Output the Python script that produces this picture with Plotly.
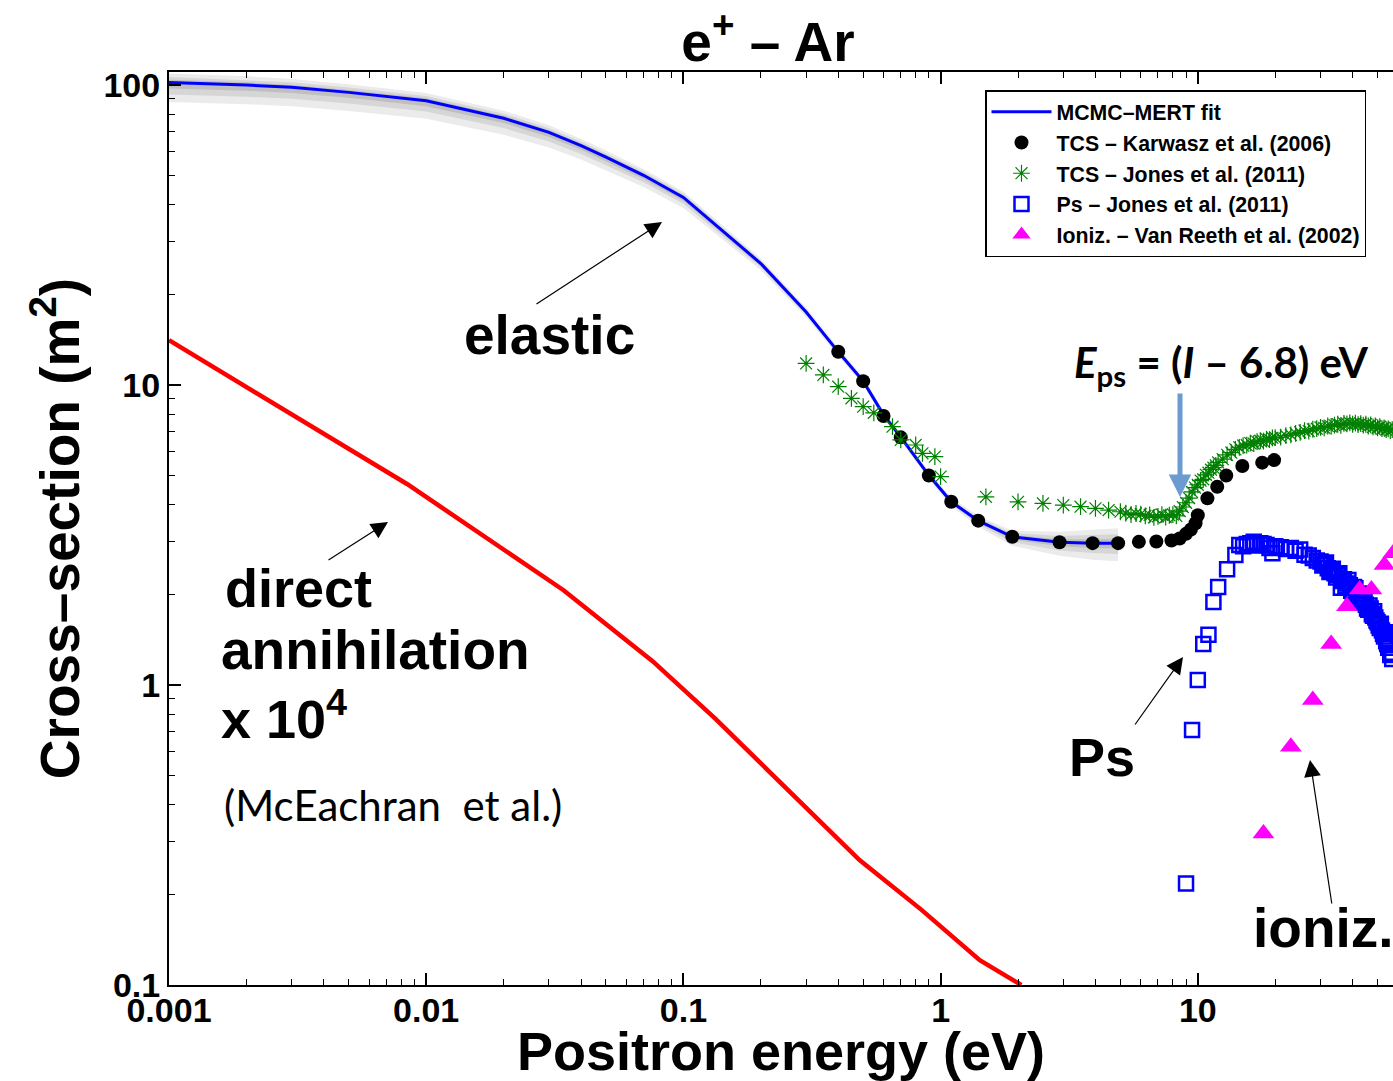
import plotly.graph_objects as go

# ---------------- data ----------------
# MCMC-MERT elastic fit (m^2 scale as labelled), with credible bands (dex offsets)
fit_energy = [0.001, 0.002, 0.003, 0.005, 0.01, 0.02, 0.03, 0.04, 0.05, 0.07, 0.1, 0.2, 0.3,
              0.4, 0.5, 0.6, 0.7, 0.8, 0.9, 1.1, 1.4, 1.9, 2.9, 3.9, 4.9]
fit_cs = [102, 100, 98.2, 94.5, 88.6, 77.5, 69.5, 62.8, 57.5, 50, 42.2, 25.4, 17.5,
          12.9, 10.3, 7.95, 6.7, 5.75, 5.0, 4.08, 3.53, 3.12, 2.99, 2.97, 2.97]
band_outer_up = [0.030, 0.029, 0.028, 0.027, 0.026, 0.025, 0.024, 0.023, 0.022, 0.021, 0.020, 0.017, 0.015,
                 0.014, 0.013, 0.013, 0.013, 0.013, 0.013, 0.014, 0.016, 0.020, 0.035, 0.045, 0.050]
band_outer_dn = [0.065, 0.064, 0.063, 0.062, 0.060, 0.055, 0.050, 0.046, 0.043, 0.039, 0.035, 0.022, 0.017,
                 0.014, 0.013, 0.013, 0.013, 0.013, 0.013, 0.015, 0.020, 0.030, 0.045, 0.055, 0.060]
band_mid_up = [0.018, 0.017, 0.017, 0.016, 0.016, 0.015, 0.014, 0.014, 0.013, 0.013, 0.012, 0.010, 0.009,
               0.008, 0.008, 0.008, 0.008, 0.008, 0.008, 0.008, 0.010, 0.012, 0.021, 0.027, 0.030]
band_mid_dn = [0.040, 0.039, 0.038, 0.037, 0.036, 0.033, 0.030, 0.028, 0.026, 0.023, 0.021, 0.013, 0.010,
               0.008, 0.008, 0.008, 0.008, 0.008, 0.008, 0.009, 0.012, 0.018, 0.027, 0.033, 0.036]
band_inner_up = [0.009, 0.009, 0.008, 0.008, 0.008, 0.008, 0.007, 0.007, 0.007, 0.006, 0.006, 0.005, 0.005,
                 0.004, 0.004, 0.004, 0.004, 0.004, 0.004, 0.004, 0.005, 0.006, 0.010, 0.013, 0.015]
band_inner_dn = [0.020, 0.019, 0.019, 0.018, 0.018, 0.016, 0.015, 0.014, 0.013, 0.012, 0.011, 0.007, 0.005,
                 0.004, 0.004, 0.004, 0.004, 0.004, 0.004, 0.005, 0.006, 0.009, 0.013, 0.016, 0.018]

# Direct annihilation (x 1e4), McEachran et al.
annih_energy = [0.001, 0.00845, 0.0342, 0.0761, 0.133, 0.484, 0.843, 1.42, 2.06]
annih_cs = [14.1, 4.67, 2.07, 1.198, 0.772, 0.261, 0.178, 0.121, 0.1]

# TCS - Karwasz et al. (2006)
karwasz_energy = [0.4, 0.5, 0.6, 0.7, 0.9, 1.1, 1.4, 1.9, 2.9, 3.9, 4.9, 5.9, 6.9, 7.9, 8.5, 9.0,
                  9.4, 9.8, 10.0, 10.9, 11.9, 12.9, 14.9, 17.8, 19.8]
karwasz_cs = [12.9, 10.3, 7.88, 6.69, 4.99, 4.08, 3.53, 3.12, 2.99, 2.97, 2.97, 3.00, 3.01, 3.03, 3.08, 3.19,
              3.30, 3.46, 3.68, 4.19, 4.58, 4.99, 5.37, 5.51, 5.62]

# TCS - Jones et al. (2011)
jones_tcs_energy = [0.30, 0.35, 0.40, 0.45, 0.50, 0.55, 0.65, 0.70, 0.80, 0.85, 0.95, 1.0,
                    1.5, 2.0, 2.5, 3.0, 3.5, 4.0, 4.5, 5.0, 5.25, 5.5, 5.75, 6.0, 6.25, 6.5, 6.75,
                    7.0, 7.25, 7.5, 7.75, 8.0, 8.25, 8.5, 8.75, 9.0, 9.25, 9.5, 9.75, 10.0,
                    10.25, 10.5, 10.75, 11.0, 11.25, 11.5, 11.75, 12.0, 12.5, 13.0, 13.5, 14.0,
                    14.5, 15.0, 15.5, 16.0, 16.5, 17.0, 17.5, 18.0, 18.5, 19.0, 19.5, 20, 21, 22,
                    23, 24, 25, 26, 27, 28, 29, 30, 31, 32, 33, 34, 35, 36, 37, 38, 39, 40, 41,
                    42, 43, 44, 45, 46, 47, 48, 49, 50, 51, 52, 53, 54, 55, 56, 57]
jones_tcs_cs = [11.8, 10.8, 9.87, 9.03, 8.47, 8.08, 7.26, 6.56, 6.31, 5.92, 5.77, 4.95,
                4.24, 4.08, 4.03, 3.98, 3.93, 3.88, 3.83, 3.78, 3.74, 3.70, 3.73, 3.71, 3.66, 3.69, 3.62,
                3.65, 3.70, 3.63, 3.68, 3.70, 3.66, 3.80, 3.92, 4.05, 4.20, 4.40, 4.55, 4.65,
                4.80, 4.85, 5.02, 5.10, 5.22, 5.30, 5.40, 5.52, 5.66, 5.85, 5.95, 6.10,
                6.20, 6.28, 6.30, 6.40, 6.38, 6.48, 6.52, 6.50, 6.60, 6.58, 6.66, 6.68, 6.70, 6.78,
                6.82, 6.90, 6.95, 7.05, 7.02, 7.12, 7.15, 7.22, 7.20, 7.30, 7.28, 7.35, 7.40, 7.33, 7.45,
                7.42, 7.48, 7.40, 7.46, 7.38, 7.44, 7.35, 7.40, 7.30, 7.36, 7.25, 7.30, 7.20, 7.26, 7.15,
                7.20, 7.10, 7.14, 7.05, 7.10]

# Ps formation - Jones et al. (2011)
ps_energy = [9.0, 9.5, 10.0, 10.5, 11.0, 11.5, 12.0, 13.0, 14.0, 14.5, 15.0, 15.5, 16.0, 16.5,
             17.0, 17.5, 18.0, 18.5, 19.0, 19.5, 20.0, 21, 22, 23, 24, 25, 26, 27, 28, 29, 30,
             30.5, 31, 31.5, 32, 32.5, 33, 33.5, 34, 34.5, 35, 35.5, 36, 36.5, 37, 37.5, 38, 38.5,
             39, 39.5, 40, 40.5, 41, 41.5, 42, 42.5, 43, 43.5, 44, 44.5, 45, 45.5, 46, 46.5, 47,
             47.5, 48, 48.5, 49, 49.5, 50, 50.5, 51, 51.5, 52, 52.5, 53, 53.5, 54, 54.5, 55, 55.5,
             56, 56.5, 57]
ps_cs = [0.218, 0.708, 1.04, 1.37, 1.47, 1.89, 2.12, 2.43, 2.71, 2.93, 2.90, 2.95, 2.97, 3.00,
         2.92, 2.97, 2.95, 2.93, 2.86, 2.75, 2.90, 2.88, 2.84, 2.86, 2.80, 2.83, 2.72, 2.70, 2.65, 2.60, 2.58,
         2.50, 2.53, 2.56, 2.45, 2.38, 2.42, 2.44, 2.36, 2.28, 2.33, 2.36, 2.11, 2.22, 2.25, 2.14, 2.18, 2.24,
         2.15, 2.06, 2.05, 2.12, 2.10, 1.98, 1.95, 2.02, 1.98, 1.90, 1.88, 1.94, 1.85, 1.80, 1.78, 1.84, 1.80,
         1.72, 1.70, 1.76, 1.68, 1.64, 1.62, 1.58, 1.55, 1.60, 1.52, 1.48, 1.45, 1.50, 1.40, 1.37, 1.33, 1.38,
         1.26, 1.28, 1.22]

# Ionization - Van Reeth et al. (2002)
ion_energy = [18, 23, 28, 33, 38, 42.6, 47.3, 53.2, 57.5]
ion_cs = [0.32, 0.623, 0.891, 1.37, 1.83, 2.08, 2.08, 2.51, 2.75]

x_tick_vals = [0.001, 0.01, 0.1, 1, 10]
x_tick_text = ["0.001", "0.01", "0.1", "1", "10"]
y_tick_vals = [0.1, 1, 10, 100]
y_tick_text = ["0.1", "1", "10", "100"]

# ---------------- layout geometry ----------------
W, H = 1393, 1081
ML, MR, MT, MB = 169, 0, 72, 96
PL, PR, PT, PB = ML, W - MR, MT, H - MB


def fx(xp):
    return (xp - PL) / (PR - PL)


def fy(yp):
    return (PB - yp) / (PB - PT)


ARIAL = "Liberation Sans, Arial, sans-serif"
CALIBRI = "Lato, Carlito, sans-serif"

fig = go.Figure()


def band(up, dn, color):
    hi = [v * 10 ** d for v, d in zip(fit_cs, up)]
    lo = [v / 10 ** d for v, d in zip(fit_cs, dn)]
    fig.add_trace(go.Scatter(
        x=fit_energy + fit_energy[::-1], y=hi + lo[::-1],
        fill="toself", fillcolor=color, line=dict(width=0),
        mode="lines", hoverinfo="skip", showlegend=False))


band(band_outer_up, band_outer_dn, "#ebebeb")
band(band_mid_up, band_mid_dn, "#d6d6d6")
band(band_inner_up, band_inner_dn, "#bfbfbf")

fig.add_trace(go.Scatter(
    x=fit_energy, y=fit_cs, mode="lines", name="<b>MCMC–MERT fit</b>",
    line=dict(color="#0000ff", width=3)))

fig.add_trace(go.Scatter(
    x=annih_energy, y=annih_cs, mode="lines", showlegend=False,
    line=dict(color="#ff0000", width=4.5)))

fig.add_trace(go.Scatter(
    x=karwasz_energy, y=karwasz_cs, mode="markers", name="<b>TCS – Karwasz et al. (2006)</b>",
    marker=dict(symbol="circle", size=14, color="black")))

fig.add_trace(go.Scatter(
    x=jones_tcs_energy, y=jones_tcs_cs, mode="markers", name="<b>TCS – Jones et al. (2011)</b>",
    marker=dict(symbol="asterisk-open", size=14, color="#008000",
                line=dict(color="#008000", width=1.2))))

fig.add_trace(go.Scatter(
    x=ps_energy, y=ps_cs, mode="markers", name="<b>Ps – Jones et al. (2011)</b>",
    marker=dict(symbol="square-open", size=14, color="#0000ff",
                line=dict(color="#0000ff", width=2.5))))

fig.add_trace(go.Scatter(
    x=ion_energy, y=ion_cs, mode="markers", name="<b>Ioniz. – Van Reeth et al. (2002)</b>",
    marker=dict(symbol="triangle-up", size=19, color="#ff00ff")))

# ---------------- annotations ----------------
ann = []


def label(text, xp, yp, size, family=ARIAL, xanchor="center", yanchor="middle"):
    ann.append(dict(text=text, x=fx(xp), y=fy(yp), xref="paper", yref="paper",
                    xanchor=xanchor, yanchor=yanchor, showarrow=False,
                    font=dict(family=family, size=size, color="black")))


def arrow(x0, y0, x1, y1, color="black", width=1.2, size=2.8, head=2):
    ann.append(dict(text="", x=fx(x1), y=fy(y1), xref="paper", yref="paper",
                    ax=x0 - x1, ay=y0 - y1, axref="pixel", ayref="pixel",
                    showarrow=True, arrowhead=head, arrowsize=size, arrowwidth=width,
                    arrowcolor=color, standoff=0, startstandoff=0))


label("<b>elastic</b>", 549, 335, 55)
arrow(535, 305, 662, 222)

label("<b>direct</b>", 223, 588, 54, xanchor="left")
label("<b>annihilation</b>", 219, 650, 55, xanchor="left")
label("<b>x 10<sup>4</sup></b>", 219, 715, 54, xanchor="left")
label("(McEachran  et al.)", 222, 805, 42, family=CALIBRI, xanchor="left")
arrow(327, 561, 388, 522)

label("<b>Ps</b>", 1102, 757, 54)
arrow(1134, 726, 1183, 657)

label("<b>ioniz.</b>", 1251, 928, 55, xanchor="left")
arrow(1332, 905, 1310, 760)

label("<b><i>E</i><sub>ps</sub> = (<i>I</i> – 6.8) eV</b>", 1221, 365, 42, family=CALIBRI)
arrow(1180, 392, 1180, 497, color="#6b9bd0", width=5, size=0.9, head=2)

# ---------------- axes ----------------
x_minor = [m * 10 ** e for e in range(-3, 2) for m in range(2, 10)]
y_minor = [m * 10 ** e for e in range(-1, 3) for m in range(2, 10)]

tick_font = dict(family=ARIAL, size=34, color="black", weight="bold")
y_range = [-1, -1 + (PB - PT) / 300.0]

fig.update_layout(
    width=W, height=H, autosize=False,
    margin=dict(l=ML, r=MR, t=MT, b=MB, pad=0),
    plot_bgcolor="white", paper_bgcolor="white",
    title=dict(text="<b>e<sup>+</sup> – Ar</b>", x=fx(768), xref="paper",
               y=1 - 42 / H, yref="container", xanchor="center", yanchor="middle",
               font=dict(family=ARIAL, size=55, color="black")),
    xaxis=dict(type="log", showgrid=False, zeroline=False, showline=True,
               linecolor="black", linewidth=2, mirror="ticks",
               ticks="inside", ticklen=12, tickwidth=1.5, tickcolor="black",
               tickfont=tick_font, ticklabelstandoff=-6,
               range=[-3, -3 + (PR - PL) / 257.2],
               tickvals=x_tick_vals, ticktext=x_tick_text,
               minor=dict(tickmode="array", tickvals=x_minor, ticks="inside", ticklen=6,
                          tickwidth=1.2, tickcolor="black"),
               title=dict(text="<b>Positron energy (eV)</b>", standoff=5,
                          font=dict(family=ARIAL, size=54, color="black"))),
    yaxis=dict(type="log", showgrid=False, zeroline=False, showline=True,
               linecolor="black", linewidth=2, mirror=False,
               ticks="inside", ticklen=12, tickwidth=1.5, tickcolor="black",
               tickfont=tick_font, range=y_range,
               tickvals=y_tick_vals, ticktext=y_tick_text,
               minor=dict(tickmode="array", tickvals=y_minor, ticks="inside", ticklen=6,
                          tickwidth=1.2, tickcolor="black"),
               title=dict(text="<b>Cross–section (m<sup>2</sup>)</b>", standoff=6,
                          font=dict(family=ARIAL, size=55, color="black"))),
    # right-hand tick marks only (the frame edge falls on the page border)
    yaxis2=dict(type="log", overlaying="y", side="right", range=y_range,
                showgrid=False, zeroline=False, showline=False, showticklabels=False,
                ticks="inside", ticklen=12, tickwidth=1.5, tickcolor="black",
                tickvals=y_tick_vals,
                minor=dict(tickmode="array", tickvals=y_minor, ticks="inside", ticklen=6,
                           tickwidth=1.2, tickcolor="black")),
    legend=dict(x=fx(985), y=fy(90), xanchor="left", yanchor="top",
                bgcolor="white", bordercolor="black", borderwidth=1.5,
                font=dict(family=ARIAL, size=21.3, color="black"),
                itemwidth=60, tracegroupgap=0),
    annotations=ann,
    showlegend=True,
)

fig.write_html("out.html")
